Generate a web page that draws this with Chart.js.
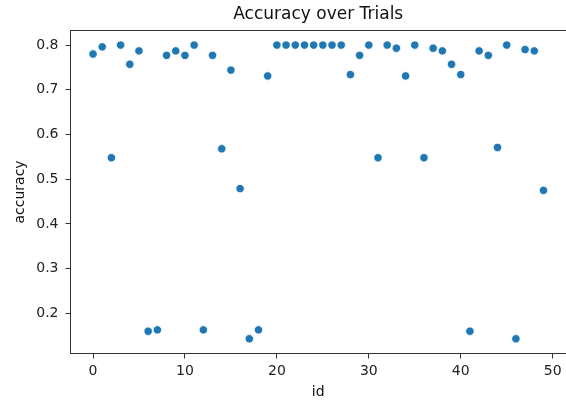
<!DOCTYPE html>
<html>
<head>
<meta charset="utf-8">
<script src="https://cdn.jsdelivr.net/npm/chart.js@4/dist/chart.umd.min.js"></script>
<style>
  html, body { margin: 0; padding: 0; background: #fff; }
  #wrap { width: 566px; height: 403px; }
</style>
</head>
<body>
<div id="wrap"><canvas id="chart"></canvas></div>
<script>
// trial ids and their accuracy
const ids = Array.from({ length: 50 }, (_, i) => i);
const accuracy = [
  0.780, 0.796, 0.548, 0.800, 0.757, 0.787, 0.160, 0.163, 0.777, 0.787,
  0.777, 0.800, 0.163, 0.777, 0.568, 0.744, 0.479, 0.143, 0.163, 0.731,
  0.800, 0.800, 0.800, 0.800, 0.800, 0.800, 0.800, 0.800, 0.734, 0.777,
  0.800, 0.548, 0.800, 0.793, 0.731, 0.800, 0.548, 0.793, 0.787, 0.757,
  0.734, 0.160, 0.787, 0.777, 0.571, 0.800, 0.143, 0.790, 0.787, 0.475
];
const xTicks = [0, 10, 20, 30, 40, 50];
const yTicks = [0.2, 0.3, 0.4, 0.5, 0.6, 0.7, 0.8];

const FONT = 'DejaVu Sans';
const AXIS = '#333';

// axes-range padding like the usual 5% margins
function padded(values, frac) {
  const lo = Math.min(...values), hi = Math.max(...values);
  const m = (hi - lo) * frac;
  return [lo - m, hi + m];
}
const [xMin, xMax] = padded(ids, 0.05);
const [yMin, yMax] = padded(accuracy, 0.05);

// top spine; the right one sits on the canvas edge and is left out
const frame = {
  id: 'frame',
  afterDraw(chart) {
    const { ctx, chartArea: a } = chart;
    const y0 = Math.floor(a.top) + 0.5;
    ctx.save();
    ctx.strokeStyle = AXIS;
    ctx.lineWidth = 1;
    ctx.beginPath();
    ctx.moveTo(Math.floor(a.left), y0);
    ctx.lineTo(a.right, y0);
    ctx.stroke();
    ctx.restore();
  }
};

new Chart(document.getElementById('chart'), {
  type: 'scatter',
  data: {
    datasets: [{
      label: 'accuracy',
      data: ids.map((id, i) => ({ x: id, y: accuracy[i] })),
      backgroundColor: '#1f77b4',
      borderColor: '#ffffff',
      borderWidth: 0.8,
      pointRadius: 4.2,
      pointHoverRadius: 4.2
    }]
  },
  options: {
    responsive: true,
    maintainAspectRatio: false,
    animation: false,
    layout: { autoPadding: false, padding: 0 },
    plugins: {
      legend: { display: false },
      tooltip: { enabled: false },
      title: {
        display: true,
        fullSize: false,
        text: 'Accuracy over Trials',
        color: '#111',
        font: { family: FONT, size: 17, weight: 'normal' },
        padding: { top: 4, bottom: 6 }
      }
    },
    scales: {
      x: {
        type: 'linear',
        min: xMin,
        max: xMax,
        afterBuildTicks: s => { s.ticks = xTicks.map(v => ({ value: v })); },
        afterFit: s => { s.height = 49.5; s.paddingLeft = 0; s.paddingRight = 0; },
        grid: { drawOnChartArea: false, drawTicks: true, tickLength: 5, color: AXIS },
        border: { display: true, color: AXIS, width: 1 },
        ticks: { color: '#222', padding: 4, font: { family: FONT, size: 14 } },
        title: {
          display: true, text: 'id', color: '#111',
          font: { family: FONT, size: 14 }, padding: { top: 0, bottom: 2 }
        }
      },
      y: {
        type: 'linear',
        min: yMin,
        max: yMax,
        afterBuildTicks: s => { s.ticks = yTicks.map(v => ({ value: v })); },
        afterFit: s => { s.width = 70.5; s.paddingTop = 0; s.paddingBottom = 0; },
        grid: { drawOnChartArea: false, drawTicks: true, tickLength: 5, color: AXIS },
        border: { display: true, color: AXIS, width: 1 },
        ticks: {
          color: '#222', padding: 7, font: { family: FONT, size: 14 },
          callback: v => v.toFixed(1)
        },
        title: {
          display: true, text: 'accuracy', color: '#111',
          font: { family: FONT, size: 14 }, padding: { top: 12, bottom: 0 }
        }
      }
    }
  },
  plugins: [frame]
});
</script>
</body>
</html>
